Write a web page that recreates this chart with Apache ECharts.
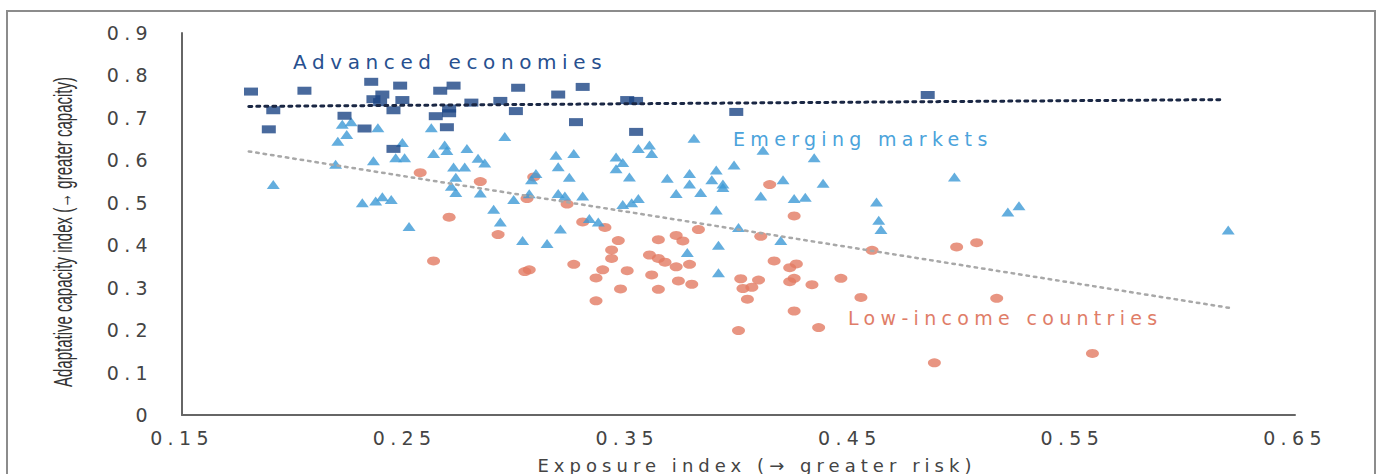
<!DOCTYPE html>
<html>
<head>
<meta charset="utf-8">
<script src="https://cdn.jsdelivr.net/npm/echarts@6/dist/echarts.min.js"></script>
<style>
  html, body { margin: 0; padding: 0; background: #fff; }
  #chart { width: 1381px; height: 474px; }
  /* the source figure is stretched sideways, so wide text gets extra tracking */
  #chart text[style*="DejaVu"] { letter-spacing: 0.28em; }
</style>
</head>
<body>
<div id="chart"></div>
<script>
// exposure index, adaptive capacity index
const advanced = [
  [0.181, 0.762], [0.191, 0.718], [0.189, 0.673], [0.205, 0.764], [0.223, 0.705],
  [0.232, 0.675], [0.235, 0.785], [0.236, 0.744], [0.239, 0.737], [0.240, 0.755],
  [0.245, 0.718], [0.245, 0.627], [0.248, 0.776], [0.249, 0.742], [0.264, 0.704],
  [0.266, 0.764], [0.269, 0.678], [0.270, 0.722], [0.270, 0.711], [0.272, 0.776],
  [0.280, 0.736], [0.293, 0.740], [0.300, 0.716], [0.301, 0.771], [0.319, 0.755],
  [0.327, 0.690], [0.330, 0.773], [0.350, 0.742], [0.354, 0.740], [0.354, 0.667],
  [0.399, 0.714], [0.485, 0.754]
];

const emerging = [
  [0.191, 0.543], [0.220, 0.645], [0.219, 0.591], [0.222, 0.685], [0.224, 0.661],
  [0.226, 0.691], [0.231, 0.500], [0.236, 0.599], [0.237, 0.504], [0.238, 0.677],
  [0.240, 0.514], [0.244, 0.508], [0.246, 0.606], [0.249, 0.642], [0.250, 0.606],
  [0.252, 0.444], [0.262, 0.677], [0.263, 0.616], [0.268, 0.636], [0.269, 0.623],
  [0.271, 0.539], [0.272, 0.584], [0.273, 0.560], [0.273, 0.524], [0.277, 0.584],
  [0.278, 0.628], [0.283, 0.605], [0.284, 0.523], [0.286, 0.594], [0.290, 0.485],
  [0.293, 0.455], [0.295, 0.656], [0.299, 0.508], [0.303, 0.411], [0.306, 0.521],
  [0.307, 0.554], [0.309, 0.569], [0.314, 0.404], [0.318, 0.612], [0.319, 0.522],
  [0.319, 0.585], [0.320, 0.438], [0.322, 0.516], [0.324, 0.560], [0.326, 0.616],
  [0.330, 0.516], [0.333, 0.463], [0.337, 0.455], [0.345, 0.580], [0.345, 0.608],
  [0.348, 0.595], [0.348, 0.496], [0.351, 0.561], [0.352, 0.500], [0.355, 0.510],
  [0.355, 0.628], [0.360, 0.636], [0.361, 0.616], [0.368, 0.558], [0.372, 0.522],
  [0.377, 0.383], [0.378, 0.569], [0.378, 0.544], [0.380, 0.652], [0.383, 0.524],
  [0.388, 0.554], [0.390, 0.577], [0.390, 0.483], [0.391, 0.400], [0.391, 0.335],
  [0.393, 0.544], [0.393, 0.536], [0.398, 0.589], [0.400, 0.442], [0.410, 0.516],
  [0.411, 0.624], [0.419, 0.411], [0.420, 0.554], [0.425, 0.510], [0.430, 0.513],
  [0.434, 0.606], [0.438, 0.546], [0.462, 0.502], [0.463, 0.459], [0.464, 0.437],
  [0.497, 0.561], [0.521, 0.478], [0.526, 0.493], [0.620, 0.436]
];

const lowIncome = [
  [0.257, 0.571], [0.263, 0.363], [0.270, 0.466], [0.284, 0.550], [0.292, 0.425],
  [0.304, 0.338], [0.306, 0.342], [0.305, 0.510], [0.308, 0.561], [0.323, 0.497],
  [0.326, 0.355], [0.330, 0.455], [0.336, 0.323], [0.336, 0.269], [0.339, 0.342],
  [0.340, 0.442], [0.343, 0.389], [0.343, 0.369], [0.346, 0.411], [0.347, 0.297],
  [0.350, 0.340], [0.360, 0.377], [0.361, 0.330], [0.364, 0.369], [0.364, 0.413],
  [0.364, 0.296], [0.367, 0.360], [0.372, 0.349], [0.372, 0.423], [0.373, 0.316],
  [0.375, 0.410], [0.378, 0.355], [0.379, 0.308], [0.382, 0.437], [0.400, 0.199],
  [0.401, 0.321], [0.402, 0.298], [0.404, 0.273], [0.406, 0.301], [0.409, 0.318],
  [0.410, 0.421], [0.414, 0.543], [0.416, 0.363], [0.423, 0.347], [0.423, 0.314],
  [0.425, 0.322], [0.426, 0.356], [0.425, 0.469], [0.425, 0.245], [0.433, 0.307],
  [0.436, 0.206], [0.446, 0.322], [0.455, 0.277], [0.460, 0.388], [0.488, 0.123],
  [0.498, 0.396], [0.507, 0.406], [0.516, 0.275], [0.559, 0.145]
];

// fitted lines, end points
const advancedTrend = [[0.180, 0.727], [0.617, 0.743]];
const lowIncomeTrend = [[0.180, 0.621], [0.621, 0.252]];

const xTicks = { min: 0.15, max: 0.65, step: 0.1 };
const yTicks = { min: 0, max: 0.9, step: 0.1 };

const chart = echarts.init(document.getElementById('chart'), null, { renderer: 'svg' });

const wide = 'DejaVu Sans';

const option = {
  animation: false,
  backgroundColor: '#fff',
  grid: { left: 182, right: 86, top: 33, bottom: 59, outerBoundsMode: 'none' },
  xAxis: {
    type: 'value',
    min: xTicks.min,
    max: xTicks.max,
    interval: xTicks.step,
    splitLine: { show: false },
    axisTick: { show: false },
    axisLine: { show: true, lineStyle: { color: '#666', width: 2 } },
    axisLabel: {
      color: '#444', fontSize: 19, fontFamily: wide, margin: 13,
      formatter: v => v.toFixed(2)
    }
  },
  yAxis: {
    type: 'value',
    min: yTicks.min,
    max: yTicks.max,
    interval: yTicks.step,
    splitLine: { show: false },
    axisTick: { show: false },
    axisLine: { show: true, lineStyle: { color: '#666', width: 2 } },
    axisLabel: {
      color: '#444', fontSize: 19, fontFamily: wide, margin: 29,
      formatter: v => (v === 0 ? '0' : v.toFixed(1))
    }
  },
  graphic: [
    {
      type: 'rect', silent: true, z: -1,
      shape: { x: 7, y: 11, width: 1368, height: 480 },
      style: { fill: 'none', stroke: '#8c8c8c', lineWidth: 2 }
    },
    {
      type: 'text', x: 63, y: 232, rotation: Math.PI / 2, scaleY: 1.7,
      style: {
        text: 'Adaptative capacity index (\u2192 greater capacity)',
        fontSize: 15, fontFamily: 'Liberation Sans', fill: '#333',
        textAlign: 'center', textVerticalAlign: 'middle'
      }
    },
    {
      type: 'text', x: 757, y: 465,
      style: {
        text: 'Exposure index (\u2192 greater risk)',
        fontSize: 18, fontFamily: wide, fill: '#444',
        textAlign: 'center', textVerticalAlign: 'middle'
      }
    },
    {
      type: 'text', x: 293, y: 62,
      style: {
        text: 'Advanced economies', fontSize: 20, fontFamily: wide, fill: '#27508f',
        textAlign: 'left', textVerticalAlign: 'middle'
      }
    },
    {
      type: 'text', x: 733, y: 139,
      style: {
        text: 'Emerging markets', fontSize: 19, fontFamily: wide, fill: '#4ba3db',
        textAlign: 'left', textVerticalAlign: 'middle'
      }
    },
    {
      type: 'text', x: 848, y: 318,
      style: {
        text: 'Low-income countries', fontSize: 19, fontFamily: wide, fill: '#e07d68',
        textAlign: 'left', textVerticalAlign: 'middle'
      }
    }
  ],
  series: [
    {
      name: 'Low-income countries',
      type: 'scatter',
      data: lowIncome,
      symbol: 'circle',
      symbolSize: [13, 9],
      itemStyle: { color: '#e27a63' }
    },
    {
      name: 'Emerging markets',
      type: 'scatter',
      data: emerging,
      symbol: 'triangle',
      symbolSize: [13, 9],
      itemStyle: { color: '#3d9ad6' }
    },
    {
      name: 'Advanced economies',
      type: 'scatter',
      data: advanced,
      symbol: 'rect',
      symbolSize: [14, 8],
      itemStyle: { color: '#1b4585' }
    },
    {
      type: 'line',
      data: lowIncomeTrend,
      symbol: 'none',
      silent: true,
      lineStyle: { color: '#a8a8a8', width: 2.5, type: [2.5, 5], cap: 'round' }
    },
    {
      type: 'line',
      data: advancedTrend,
      symbol: 'none',
      silent: true,
      lineStyle: { color: '#1a2744', width: 3, type: [3, 5], cap: 'round' }
    }
  ]
};

chart.setOption(option);
</script>
</body>
</html>
